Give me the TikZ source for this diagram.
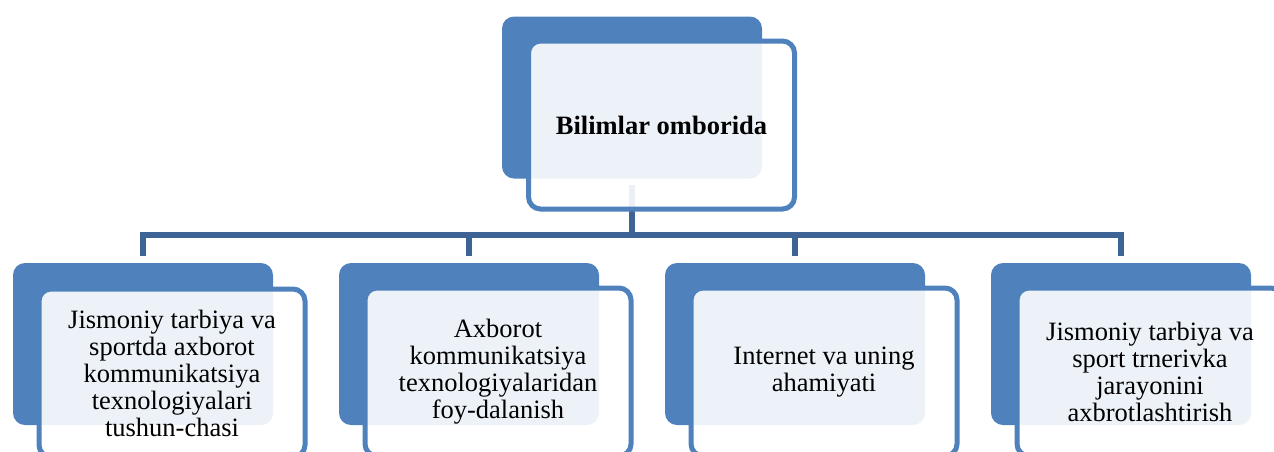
\documentclass[tikz,border=0pt]{standalone}
\usepackage{fontspec}
\setmainfont{Liberation Serif}
\definecolor{accent}{RGB}{79,129,189}
\definecolor{connc}{RGB}{62,100,150}
\tikzset{
  backbox/.style={rectangle, rounded corners=6pt, fill=accent, inner sep=0pt,
    minimum width=130pt, minimum height=81pt},
  frontbox/.style={rectangle, rounded corners=6pt, draw=accent, line width=2.5pt,
    fill=white, fill opacity=0.9, text opacity=1, inner sep=0pt,
    minimum width=133pt, minimum height=84pt, align=center,
    font=\fontsize{13.25}{13.5}\selectfont},
  conn/.style={draw=connc, line width=2.75pt},
}
\begin{document}
\begin{tikzpicture}[x=0.5pt,y=-0.5pt]
\useasboundingbox (0,0) rectangle (1274,451);
\begin{scope}
\clip (0,0) rectangle (1274,451);
\coordinate (bus) at (0,235);
% back boxes
\node[backbox] (b0) at (632,97.5) {};
\node[backbox] (b1) at (143,344) {};
\node[backbox] (b2) at (469,344) {};
\node[backbox] (b3) at (795,344) {};
\node[backbox] (b4) at (1121,344) {};
% connectors
\draw[conn] ([yshift=-3pt]b0.south) -- (b0.south |- bus) -| ([yshift=3.5pt]b1.north);
\draw[conn] (b0.south |- bus) -| ([yshift=3.5pt]b2.north);
\draw[conn] (b0.south |- bus) -| ([yshift=3.5pt]b3.north);
\draw[conn] (b0.south |- bus) -| ([yshift=3.5pt]b4.north);
% front boxes
\node[frontbox] (f0) at (661.5,125) {\bfseries Bilimlar omborida};
\node[frontbox] (f1) at (172,373) {Jismoniy tarbiya va\\sportda axborot\\kommunikatsiya\\texnologiyalari\\tushun-chasi};
\node[frontbox] (f2) at (498,372) {Axborot\\kommunikatsiya\\texnologiyalaridan\\foy-dalanish};
\node[frontbox] (f3) at (824,372) {Internet va uning\\ahamiyati};
\node[frontbox] (f4) at (1150,372) {Jismoniy tarbiya va\\sport trnerivka\\jarayonini\\axbrotlashtirish};
\end{scope}
\end{tikzpicture}
\end{document}
